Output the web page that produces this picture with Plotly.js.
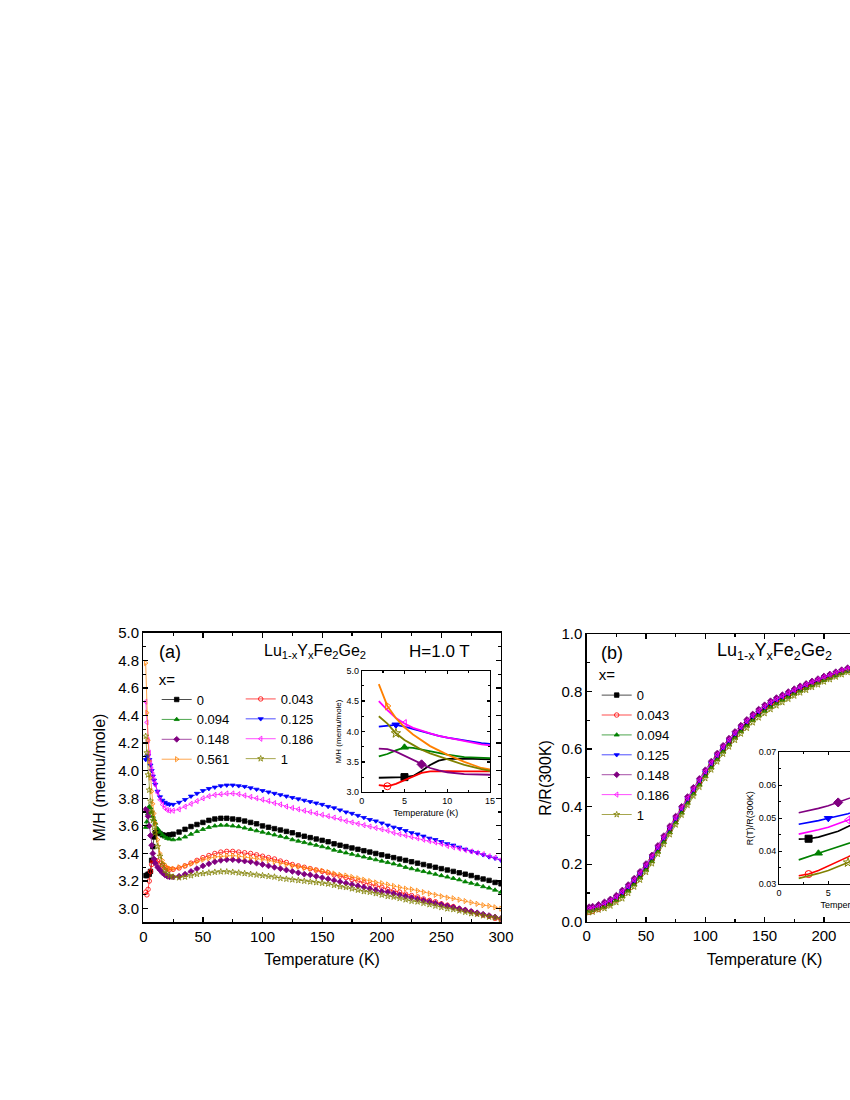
<!DOCTYPE html>
<html>
<head>
<meta charset="utf-8">
<script src="https://cdn.plot.ly/plotly-3.0.1.min.js"></script>
<style>
  html, body { margin: 0; padding: 0; background: #fff; overflow: hidden; }
  #chart { width: 1000px; height: 1100px; }
</style>
</head>
<body>
<div id="chart"></div>
<script>
// ---- panel (a): M/H vs temperature, H = 1 T ----
const tempA = [2,3,4,5,6,7,8,9,10,12,14,16,18,20,22,25,
  30,35,40,45,50,55,60,65,70,75,80,85,90,95,100,105,110,115,120,125,130,135,140,145,150,
  155,160,165,170,175,180,185,190,195,200,205,210,215,220,225,230,235,240,245,250,
  255,260,265,270,275,280,285,290,295,300];

const mhX0 = [3.24,3.24,3.25,3.25,3.27,3.35,3.45,3.52,3.55,3.555,3.545,3.535,3.53,3.53,3.535,3.54,
  3.555,3.575,3.595,3.61,3.625,3.64,3.65,3.655,3.655,3.65,3.645,3.635,3.625,3.615,3.60,3.59,3.58,3.57,3.56,3.55,3.535,3.525,3.515,3.505,3.495,
  3.485,3.47,3.46,3.45,3.44,3.43,3.42,3.41,3.40,3.39,3.38,3.37,3.36,3.35,3.34,3.33,3.32,3.31,3.30,3.29,
  3.28,3.27,3.26,3.25,3.24,3.225,3.215,3.205,3.19,3.18];
const mhX043 = [3.12,3.10,3.14,3.20,3.27,3.32,3.345,3.35,3.35,3.345,3.33,3.315,3.30,3.29,3.285,3.285,
  3.295,3.31,3.33,3.35,3.37,3.385,3.40,3.41,3.415,3.415,3.41,3.405,3.40,3.39,3.38,3.37,3.36,3.345,3.335,3.32,3.31,3.30,3.29,3.28,3.27,
  3.26,3.245,3.235,3.225,3.21,3.20,3.19,3.175,3.165,3.155,3.14,3.13,3.12,3.105,3.095,3.085,3.07,3.06,3.05,3.035,
  3.025,3.015,3.00,2.99,2.98,2.965,2.955,2.945,2.93,2.92];
const mhX094 = [3.59,3.63,3.69,3.74,3.73,3.70,3.67,3.645,3.62,3.58,3.555,3.535,3.52,3.51,3.505,3.50,
  3.505,3.52,3.54,3.56,3.575,3.59,3.60,3.605,3.605,3.60,3.595,3.585,3.575,3.565,3.555,3.545,3.535,3.525,3.515,3.50,3.49,3.48,3.47,3.46,3.45,
  3.44,3.425,3.415,3.405,3.395,3.385,3.375,3.365,3.355,3.345,3.335,3.325,3.315,3.30,3.29,3.28,3.27,3.26,3.25,3.24,
  3.23,3.22,3.21,3.195,3.185,3.175,3.16,3.15,3.135,3.12];
const mhX125 = [4.08,4.10,4.11,4.08,4.04,4.00,3.96,3.93,3.90,3.85,3.81,3.785,3.77,3.76,3.755,3.755,
  3.77,3.79,3.815,3.835,3.855,3.87,3.88,3.89,3.895,3.895,3.89,3.885,3.875,3.865,3.855,3.845,3.835,3.825,3.815,3.805,3.795,3.785,3.775,3.765,3.755,
  3.74,3.73,3.715,3.70,3.69,3.675,3.66,3.645,3.635,3.62,3.605,3.59,3.58,3.565,3.55,3.54,3.525,3.51,3.50,3.485,
  3.47,3.46,3.445,3.43,3.415,3.405,3.39,3.375,3.365,3.35];
const mhX148 = [3.72,3.71,3.67,3.60,3.53,3.46,3.40,3.36,3.33,3.30,3.28,3.26,3.245,3.235,3.23,3.23,
  3.235,3.25,3.27,3.29,3.31,3.325,3.34,3.35,3.355,3.355,3.35,3.345,3.34,3.33,3.32,3.31,3.30,3.29,3.28,3.27,3.26,3.25,3.245,3.235,3.225,
  3.215,3.205,3.195,3.185,3.175,3.165,3.155,3.145,3.135,3.125,3.12,3.11,3.10,3.09,3.08,3.07,3.06,3.05,3.04,3.03,
  3.02,3.01,3.00,2.99,2.98,2.97,2.96,2.95,2.94,2.93];
const mhX186 = [4.50,4.35,4.22,4.13,4.06,4.01,3.97,3.93,3.90,3.84,3.79,3.755,3.73,3.715,3.71,3.71,
  3.72,3.74,3.76,3.78,3.80,3.815,3.825,3.83,3.835,3.835,3.83,3.82,3.81,3.80,3.79,3.78,3.765,3.755,3.74,3.73,3.72,3.71,3.70,3.69,3.68,
  3.67,3.66,3.65,3.635,3.625,3.615,3.605,3.595,3.585,3.575,3.565,3.55,3.54,3.53,3.52,3.51,3.50,3.49,3.48,3.47,
  3.455,3.445,3.435,3.425,3.415,3.405,3.395,3.38,3.37,3.355];
const mhX561 = [4.78,4.42,4.22,4.07,3.95,3.85,3.76,3.69,3.62,3.50,3.40,3.35,3.32,3.30,3.29,3.29,
  3.30,3.31,3.325,3.34,3.355,3.365,3.375,3.38,3.385,3.385,3.38,3.375,3.37,3.365,3.36,3.35,3.34,3.33,3.32,3.31,3.305,3.295,3.29,3.28,3.275,
  3.265,3.255,3.245,3.24,3.23,3.22,3.21,3.20,3.19,3.185,3.175,3.165,3.155,3.145,3.14,3.13,3.12,3.11,3.10,3.09,
  3.08,3.075,3.065,3.055,3.045,3.035,3.025,3.02,3.01,3.00];
const mhX1 = [4.25,4.13,3.97,3.86,3.78,3.70,3.64,3.59,3.55,3.45,3.38,3.32,3.28,3.255,3.24,3.23,
  3.225,3.23,3.24,3.25,3.255,3.26,3.265,3.268,3.268,3.265,3.26,3.255,3.25,3.245,3.24,3.235,3.23,3.22,3.215,3.21,3.205,3.20,3.195,3.19,3.185,
  3.18,3.17,3.16,3.155,3.145,3.135,3.125,3.12,3.11,3.10,3.09,3.085,3.075,3.065,3.055,3.05,3.04,3.03,3.02,3.01,
  3.00,2.995,2.985,2.975,2.965,2.96,2.95,2.94,2.935,2.925];

// temperatures where the inset (a) shows one marker per curve
const insetMarkA = [5, 3, 5, 4, 7, 5, 3, 4];

// ---- panel (b): R/R(300K) vs temperature ----
const tempB = [2,5,10,15,20,25,30,35,40,45,50,55,60,65,70,75,80,85,90,95,100,105,110,115,120,125,130,135,140,145,150,
  155,160,165,170,175,180,185,190,195,200,205,210,215,220,240,260,280,300];

const rrX0 = [0.044,0.045,0.052,0.060,0.070,0.083,0.098,0.117,0.139,0.163,0.190,0.220,0.253,
  0.287,0.321,0.355,0.389,0.423,0.455,0.486,0.516,0.546,0.574,0.601,0.626,0.649,0.671,0.691,0.710,0.727,0.742,
  0.756,0.768,0.779,0.789,0.800,0.810,0.819,0.828,0.837,0.846,0.854,0.861,0.869,0.876,0.907,0.938,0.970,1.0];
const rrX043 = [0.033,0.036,0.043,0.052,0.062,0.075,0.094,0.113,0.135,0.159,0.186,0.216,0.249,
  0.283,0.317,0.351,0.385,0.419,0.451,0.482,0.512,0.542,0.570,0.597,0.622,0.645,0.667,0.687,0.706,0.723,0.738,
  0.752,0.764,0.775,0.786,0.797,0.807,0.816,0.825,0.834,0.843,0.851,0.859,0.867,0.874,0.905,0.937,0.969,1.0];
const rrX094 = [0.037,0.040,0.046,0.051,0.061,0.074,0.088,0.107,0.129,0.153,0.180,0.210,0.243,
  0.277,0.311,0.345,0.379,0.413,0.445,0.476,0.506,0.536,0.564,0.591,0.616,0.639,0.661,0.681,0.700,0.717,0.732,
  0.746,0.758,0.770,0.781,0.792,0.802,0.811,0.821,0.830,0.839,0.847,0.855,0.864,0.871,0.903,0.935,0.968,1.0];
const rrX125 = [0.048,0.050,0.055,0.063,0.073,0.086,0.102,0.121,0.143,0.167,0.194,0.224,0.257,
  0.291,0.325,0.359,0.393,0.427,0.459,0.490,0.520,0.550,0.578,0.605,0.630,0.653,0.675,0.695,0.714,0.731,0.746,
  0.760,0.771,0.782,0.793,0.804,0.813,0.822,0.831,0.840,0.848,0.856,0.864,0.872,0.878,0.908,0.939,0.970,1.0];
const rrX148 = [0.052,0.054,0.060,0.069,0.079,0.092,0.110,0.129,0.151,0.175,0.202,0.232,0.265,
  0.299,0.333,0.367,0.401,0.435,0.467,0.498,0.528,0.558,0.586,0.613,0.638,0.661,0.683,0.703,0.722,0.739,0.754,
  0.768,0.779,0.789,0.800,0.810,0.820,0.828,0.837,0.845,0.854,0.861,0.869,0.876,0.883,0.911,0.941,0.971,1.0];
const rrX186 = [0.045,0.047,0.053,0.063,0.073,0.086,0.104,0.123,0.145,0.169,0.196,0.226,0.259,
  0.293,0.327,0.361,0.395,0.429,0.461,0.492,0.522,0.552,0.580,0.607,0.632,0.655,0.677,0.697,0.716,0.733,0.748,
  0.762,0.773,0.784,0.795,0.805,0.815,0.824,0.832,0.841,0.850,0.857,0.865,0.873,0.879,0.909,0.940,0.970,1.0];
const rrX1 = [0.032,0.034,0.041,0.046,0.055,0.067,0.080,0.099,0.121,0.145,0.172,0.202,0.235,
  0.269,0.303,0.337,0.371,0.405,0.437,0.468,0.498,0.528,0.556,0.583,0.608,0.631,0.653,0.673,0.692,0.709,0.724,
  0.738,0.751,0.762,0.774,0.785,0.796,0.805,0.815,0.824,0.834,0.842,0.851,0.859,0.867,0.899,0.933,0.967,1.0];

// inset (b): low temperature R(T)/R(300K)
const tempBin = [2,3,4,5,6,7,8,9];
const lowX0   = [0.0437,0.0438,0.0443,0.0451,0.0461,0.0475,0.0490,0.0505];
const lowX043 = [0.0326,0.0331,0.0342,0.0355,0.0368,0.0383,0.0398,0.0413];
const lowX094 = [0.0374,0.0383,0.0394,0.0404,0.0413,0.0422,0.0433,0.0445];
const lowX125 = [0.0482,0.0487,0.0493,0.0500,0.0507,0.0514,0.0524,0.0535];
const lowX148 = [0.0517,0.0523,0.0530,0.0538,0.0548,0.0558,0.0570,0.0582];
const lowX186 = [0.0452,0.0458,0.0465,0.0473,0.0483,0.0495,0.0508,0.0520];
const lowX1   = [0.0318,0.0325,0.0333,0.0342,0.0353,0.0366,0.0380,0.0395];
const insetMarkB = [3, 3, 4, 5, 6, 7, 7];

// series styles
const seriesA = [
  {name: '0',     y: mhX0,   color: '#000000', symbol: 'square',              legend: 'legend'},
  {name: '0.043', y: mhX043, color: '#ff0000', symbol: 'circle-open',         legend: 'legend2'},
  {name: '0.094', y: mhX094, color: '#008000', symbol: 'triangle-up',         legend: 'legend'},
  {name: '0.125', y: mhX125, color: '#0000ff', symbol: 'triangle-down',       legend: 'legend2'},
  {name: '0.148', y: mhX148, color: '#800080', symbol: 'diamond',             legend: 'legend'},
  {name: '0.186', y: mhX186, color: '#ff00ff', symbol: 'triangle-left-open',  legend: 'legend2'},
  {name: '0.561', y: mhX561, color: '#ff8000', symbol: 'triangle-right-open', legend: 'legend'},
  {name: '1',     y: mhX1,   color: '#808000', symbol: 'star-open',           legend: 'legend2'}
];
const seriesB = [
  {name: '0',     y: rrX0,   low: lowX0,   color: '#000000', symbol: 'square'},
  {name: '0.043', y: rrX043, low: lowX043, color: '#ff0000', symbol: 'circle-open'},
  {name: '0.094', y: rrX094, low: lowX094, color: '#008000', symbol: 'triangle-up'},
  {name: '0.125', y: rrX125, low: lowX125, color: '#0000ff', symbol: 'triangle-down'},
  {name: '0.148', y: rrX148, low: lowX148, color: '#800080', symbol: 'diamond'},
  {name: '0.186', y: rrX186, low: lowX186, color: '#ff00ff', symbol: 'triangle-left-open'},
  {name: '1',     y: rrX1,   low: lowX1,   color: '#808000', symbol: 'star-open'}
];

function valueAt(ts, vs, t) { return vs[ts.indexOf(t)]; }

const data = [];

// main curves, panel (a)
seriesA.forEach(s => {
  data.push({
    type: 'scatter', mode: 'lines+markers', x: tempA, y: s.y, name: s.name,
    xaxis: 'x', yaxis: 'y', legend: s.legend,
    line: {color: s.color, width: 0.7},
    marker: {symbol: s.symbol, size: 4.5, color: s.color, line: {color: s.color, width: 0.8}}
  });
});

// main curves, panel (b)
seriesB.forEach(s => {
  data.push({
    type: 'scatter', mode: 'lines+markers', x: tempB, y: s.y, name: s.name,
    xaxis: 'x2', yaxis: 'y2', legend: 'legend3',
    line: {color: s.color, width: 0.7},
    marker: {symbol: s.symbol, size: 4.5, color: s.color, line: {color: s.color, width: 0.8}}
  });
});

// inset (a): low-T lines with one marker each
seriesA.forEach((s, i) => {
  data.push({
    type: 'scatter', mode: 'lines', x: tempA, y: s.y, showlegend: false,
    xaxis: 'x3', yaxis: 'y3', line: {color: s.color, width: 1.8}
  });
  const t = insetMarkA[i];
  data.push({
    type: 'scatter', mode: 'markers', x: [t], y: [valueAt(tempA, s.y, t)], showlegend: false,
    xaxis: 'x3', yaxis: 'y3',
    marker: {symbol: s.symbol, size: 7, color: s.color, line: {color: s.color, width: 1}}
  });
});

// inset (b)
seriesB.forEach((s, i) => {
  data.push({
    type: 'scatter', mode: 'lines', x: tempBin, y: s.low, showlegend: false,
    xaxis: 'x4', yaxis: 'y4', line: {color: s.color, width: 1.6}
  });
  const t = insetMarkB[i];
  data.push({
    type: 'scatter', mode: 'markers', x: [t], y: [valueAt(tempBin, s.low, t)], showlegend: false,
    xaxis: 'x4', yaxis: 'y4',
    marker: {symbol: s.symbol, size: 7, color: s.color, line: {color: s.color, width: 1}}
  });
});

const fontFam = 'Arial, "Liberation Sans", sans-serif';

function axis(extra) {
  return Object.assign({
    showline: true, linecolor: '#000', linewidth: 1.3, mirror: 'allticks',
    ticks: 'inside', ticklen: 5, tickwidth: 1.2, tickcolor: '#000',
    showgrid: false, zeroline: false,
    tickfont: {size: 15, color: '#000'}
  }, extra);
}

const legendBase = {
  bgcolor: 'rgba(0,0,0,0)', font: {size: 13, color: '#000'},
  xanchor: 'left', yanchor: 'top', tracegroupgap: 0, itemwidth: 30
};

function label(text, x, y, size) {
  return {text: text, x: x, y: y, xref: 'paper', yref: 'paper', xanchor: 'center', yanchor: 'middle',
    showarrow: false, font: {size: size}};
}

const layout = {
  width: 1000, height: 1100,
  margin: {l: 0, r: 0, t: 0, b: 0},
  paper_bgcolor: '#fff', plot_bgcolor: '#fff',
  font: {family: fontFam, color: '#000'},
  xaxis: axis({domain: [0.1433, 0.501], anchor: 'y', range: [0, 300], dtick: 50,
    minor: {ticks: 'inside', ticklen: 3, dtick: 25, tickcolor: '#000'},
    title: {text: 'Temperature (K)', font: {size: 16}, standoff: 10}}),
  yaxis: axis({domain: [0.1614, 0.4248], anchor: 'x', range: [2.9, 5.0], tick0: 3.0, dtick: 0.2, tickformat: '.1f',
    minor: {ticks: 'inside', ticklen: 3, dtick: 0.1, tickcolor: '#000'},
    title: {text: 'M/H (memu/mole)', font: {size: 16}, standoff: 8}}),
  xaxis2: axis({domain: [0.5867, 0.9425], anchor: 'y2', range: [0, 300], dtick: 50,
    minor: {ticks: 'inside', ticklen: 3, dtick: 25, tickcolor: '#000'},
    title: {text: 'Temperature (K)', font: {size: 16}, standoff: 10}}),
  yaxis2: axis({domain: [0.1621, 0.4236], anchor: 'x2', range: [0, 1.0], dtick: 0.2, tickformat: '.1f',
    minor: {ticks: 'inside', ticklen: 3, dtick: 0.1, tickcolor: '#000'},
    title: {text: 'R/R(300K)', font: {size: 16}, standoff: 6}}),
  xaxis3: axis({domain: [0.3617, 0.490], anchor: 'y3', range: [0, 15], dtick: 5, linewidth: 1, ticklen: 3,
    tickfont: {size: 9}, minor: {ticks: 'inside', ticklen: 2, dtick: 2.5, tickcolor: '#000'},
    title: {text: 'Temperature (K)', font: {size: 9}, standoff: 4}}),
  yaxis3: axis({domain: [0.2797, 0.3903], anchor: 'x3', range: [3.0, 5.0], dtick: 0.5, tickformat: '.1f', linewidth: 1, ticklen: 3,
    tickfont: {size: 9}, minor: {ticks: 'inside', ticklen: 2, dtick: 0.25, tickcolor: '#000'},
    title: {text: 'M/H (memu/mole)', font: {size: 8}, standoff: 3}}),
  xaxis4: axis({domain: [0.779, 0.9269], anchor: 'y4', range: [0, 15], dtick: 5, linewidth: 1, ticklen: 3,
    tickfont: {size: 9}, minor: {ticks: 'inside', ticklen: 2, dtick: 2.5, tickcolor: '#000'},
    title: {text: 'Temperature (K)', font: {size: 9}, standoff: 4}}),
  yaxis4: axis({domain: [0.1961, 0.3161], anchor: 'x4', range: [0.03, 0.07], dtick: 0.01, tickformat: '.2f', linewidth: 1, ticklen: 3,
    tickfont: {size: 9}, minor: {ticks: 'inside', ticklen: 2, dtick: 0.005, tickcolor: '#000'},
    title: {text: 'R(T)/R(300K)', font: {size: 9}, standoff: 3}}),
  legend: Object.assign({}, legendBase, {x: 0.1567, y: 0.3954, title: {text: 'x=', font: {size: 15}}}),
  legend2: Object.assign({}, legendBase, {x: 0.2407, y: 0.3782}),
  legend3: Object.assign({}, legendBase, {x: 0.5967, y: 0.3994, title: {text: 'x=', font: {size: 15}}}),
  annotations: [
    label('(a)', 0.1695, 0.4073, 18),
    label('Lu<sub>1-x</sub>Y<sub>x</sub>Fe<sub>2</sub>Ge<sub>2</sub>', 0.315, 0.4073, 16),
    label('H=1.0 T', 0.439, 0.4073, 17),
    label('(b)', 0.6117, 0.4064, 18),
    label('Lu<sub>1-x</sub>Y<sub>x</sub>Fe<sub>2</sub>Ge<sub>2</sub>', 0.774, 0.4073, 18)
  ]
};

Plotly.newPlot('chart', data, layout, {displayModeBar: false, staticPlot: true});
</script>
</body>
</html>
